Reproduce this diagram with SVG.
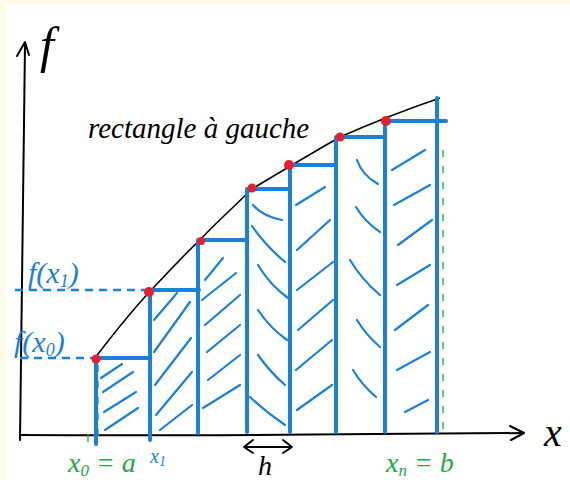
<svg xmlns="http://www.w3.org/2000/svg" width="570" height="480" viewBox="0 0 570 480">
<style>
.ax{stroke:#000;stroke-width:2;fill:none;stroke-linecap:round;stroke-linejoin:round}
.bl{stroke:#1c80d6;stroke-width:4;fill:none;stroke-linecap:round}
.hb{stroke:#1c80d6;stroke-width:2.2;fill:none;stroke-linecap:round}
.dash{stroke:#1c80d6;stroke-width:2.5;fill:none;stroke-dasharray:8 6}
.gd{stroke:#2aa84a;stroke-width:1.4;fill:none;stroke-dasharray:7 9}
.dot{fill:#e3202b}
.t{font-family:"Liberation Serif",serif;font-style:italic}
</style>
<rect width="570" height="480" fill="#fffbe6"/>
<rect x="5" y="4" width="565" height="476" fill="#fff"/>

<g id="axes">
<path class="ax" d="M25 44 Q22 240 20 440"/>
<polyline class="ax" points="17,56 25,42 29,55"/>
<path class="ax" d="M20 435 Q200 436 523 433"/>
<polyline class="ax" points="510,426 524,433 511,440"/>
<text class="t" x="40" y="62" font-size="50">f</text>
<text class="t" x="544" y="446" font-size="40">x</text>
</g>

<g id="curve">
<path d="M95 358 Q130 312 155 286 Q200 238 252 189 Q300 160 340 137 Q390 115 440 98" stroke="#000" stroke-width="1.6" fill="none"/>
</g>

<g id="guides">
<path class="dash" d="M20 358 H96"/>
<path class="dash" d="M15 290 H150"/>
<path class="gd" d="M98 365 V440"/>
<path class="gd" d="M443 150 V430"/>
<path d="M88 434 V442" stroke="#2aa84a" stroke-width="1.4"/>
</g>

<g id="rectangles">
<path class="bl" d="M96 358 V444 M96 358 H150"/>
<path class="bl" d="M150 290 V440 M150 290 H199"/>
<path class="bl" d="M198 240 V433 M198 240 H246"/>
<path class="bl" d="M247 189 V432 M252 189 H290"/>
<path class="bl" d="M290 165 V432 M290 165 H336"/>
<path class="bl" d="M336 137 V432 M336 137 H385"/>
<path class="bl" d="M385 121 V432 M385 121 H446"/>
<path class="bl" d="M437 98 V432"/>
</g>

<g id="hatching">
<path class="hb" d="M101 378 L122 364 M103 392 L133 372 M104 412 L136 392 M105 430 L138 408"/>
<path class="hb" d="M154 320 L177 293 M154 352 L190 302 M155 385 L191 338 M156 415 L192 372 M160 430 L192 405"/>
<path class="hb" d="M205 280 L223 258 M202 300 L236 273 M205 325 L240 295 M207 352 L240 325 M208 380 L240 355 M203 408 L240 385"/>
<path class="hb" d="M253 205 Q262 216 282 220 M252 226 Q265 245 285 262 M258 265 Q270 285 288 298 M258 310 Q270 328 287 340 M258 355 Q270 372 285 385 M250 397 Q266 412 285 425"/>
<path class="hb" d="M296 205 L325 187 M297 250 L330 220 M297 290 L333 262 M298 330 L333 300 M296 370 L332 340 M297 410 L332 385"/>
<path class="hb" d="M357 160 Q362 175 378 184 M356 207 Q365 222 380 232 M350 260 Q362 280 380 295 M357 320 Q366 335 380 347 M353 370 Q362 385 376 397"/>
<path class="hb" d="M392 170 L425 150 M394 205 L430 185 M398 245 L432 220 M397 285 L430 265 M395 330 L428 305 M397 370 L430 352 M405 412 L428 400"/>
</g>

<g id="points">
<circle class="dot" cx="96" cy="359" r="4.5"/>
<circle class="dot" cx="149" cy="292" r="5"/>
<circle class="dot" cx="201" cy="241" r="4"/>
<circle class="dot" cx="252" cy="188" r="4.5"/>
<circle class="dot" cx="289" cy="165" r="5"/>
<circle class="dot" cx="340" cy="137" r="4.5"/>
<circle class="dot" cx="386" cy="121" r="5"/>
</g>

<g id="labels">
<text class="t" x="88" y="138" font-size="29">rectangle à gauche</text>
<text class="t" x="28" y="283" font-size="30" fill="#1c80d6">f(x<tspan font-size="18" dy="4">1</tspan><tspan dy="-4">)</tspan></text>
<text class="t" x="14" y="352" font-size="30" fill="#1c80d6">f(x<tspan font-size="18" dy="4">0</tspan><tspan dy="-4">)</tspan></text>
<text class="t" x="68" y="472" font-size="28" fill="#22a848">x<tspan font-size="17" dy="4">0</tspan><tspan dy="-4"> = a</tspan></text>
<text class="t" x="150" y="463" font-size="20" fill="#1c80d6">x<tspan font-size="14" dy="3">1</tspan></text>
<text class="t" x="386" y="472" font-size="28" fill="#22a848">x<tspan font-size="17" dy="4">n</tspan><tspan dy="-4"> = b</tspan></text>
</g>

<g id="step">
<path class="ax" stroke-width="3" d="M245 447 H291 M253 440 L244 447 L253 453 M283 440 L292 447 L283 453"/>
<text class="t" x="258" y="475" font-size="28">h</text>
</g>
</svg>
